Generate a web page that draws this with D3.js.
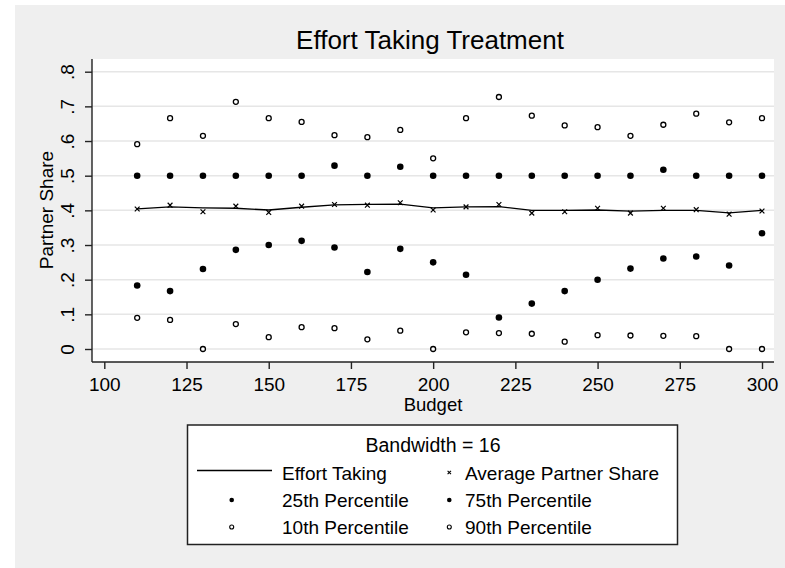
<!DOCTYPE html>
<html>
<head>
<meta charset="utf-8">
<script src="https://cdn.jsdelivr.net/npm/d3@7"></script>
<style>
  body { margin: 0; background: #fff; }
  svg { display: block; font-family: "Liberation Sans", Arial, sans-serif; }
</style>
</head>
<body>
<svg id="chart" width="785" height="568"></svg>
<script>
const budget = [110, 120, 130, 140, 150, 160, 170, 180, 190, 200, 210, 220, 230, 240, 250, 260, 270, 280, 290, 300];
const avgShare = [0.404, 0.415, 0.396, 0.412, 0.394, 0.412, 0.417, 0.415, 0.422, 0.401, 0.410, 0.417, 0.392, 0.396, 0.406, 0.392, 0.406, 0.402, 0.389, 0.398];
const effortSmooth = [0.404, 0.410, 0.407, 0.406, 0.401, 0.409, 0.416, 0.417, 0.418, 0.407, 0.410, 0.411, 0.400, 0.400, 0.401, 0.398, 0.400, 0.400, 0.393, 0.400];
const p10 = [0.090, 0.084, 0.000, 0.072, 0.034, 0.063, 0.060, 0.028, 0.053, 0.000, 0.048, 0.046, 0.044, 0.021, 0.040, 0.039, 0.038, 0.037, 0.000, 0.000];
const p25 = [0.183, 0.167, 0.231, 0.286, 0.300, 0.312, 0.293, 0.222, 0.289, 0.250, 0.214, 0.091, 0.131, 0.167, 0.200, 0.232, 0.261, 0.267, 0.241, 0.334];
const p75 = [0.5, 0.5, 0.5, 0.5, 0.5, 0.5, 0.529, 0.5, 0.526, 0.5, 0.5, 0.5, 0.5, 0.5, 0.5, 0.5, 0.517, 0.5, 0.5, 0.5];
const p90 = [0.591, 0.666, 0.615, 0.713, 0.666, 0.655, 0.617, 0.611, 0.632, 0.550, 0.666, 0.727, 0.673, 0.645, 0.640, 0.615, 0.647, 0.679, 0.654, 0.666];
const xTicks = [100, 125, 150, 175, 200, 225, 250, 275, 300];
const yTicks = [0, 0.1, 0.2, 0.3, 0.4, 0.5, 0.6, 0.7, 0.8];

const legendItems = [
  { name: 'Effort Taking', kind: 'line' },
  { name: 'Average Partner Share', kind: 'cross' },
  { name: '25th Percentile', kind: 'dot' },
  { name: '75th Percentile', kind: 'dot' },
  { name: '10th Percentile', kind: 'ring' },
  { name: '90th Percentile', kind: 'ring' },
];

const svg = d3.select('#chart');
const plot = { left: 92, right: 774, top: 59, bottom: 362 };

svg.append('rect').attr('x', 15).attr('y', 5).attr('width', 770).attr('height', 563).attr('fill', '#efefef');
svg.append('rect')
  .attr('x', plot.left).attr('y', plot.top)
  .attr('width', plot.right - plot.left).attr('height', plot.bottom - plot.top)
  .attr('fill', '#fff');

const x = d3.scaleLinear([100, 300], [104.3, 762]);
const y = d3.scaleLinear([0, 0.8], [349, 71.7]);

// grid
svg.append('g')
  .selectAll('line')
  .data(yTicks)
  .join('line')
  .attr('x1', plot.left).attr('x2', plot.right)
  .attr('y1', (d) => y(d)).attr('y2', (d) => y(d))
  .attr('stroke', '#e6e6e6').attr('stroke-width', 1.5);

const fmt = (d) => (d === 0 ? '0' : d3.format('.1f')(d).replace(/^0/, ''));

// y axis
const yAxisEl = svg.append('g')
  .attr('transform', `translate(${plot.left},0)`)
  .call(d3.axisLeft(y).tickValues(yTicks).tickFormat(fmt).tickSize(7).tickSizeOuter(0));
yAxisEl.select('.domain').attr('d', `M0,${plot.top}V${plot.bottom}`);
yAxisEl.selectAll('.tick text')
  .attr('x', null).attr('dy', null)
  .attr('transform', 'translate(-18,0) rotate(-90)')
  .attr('text-anchor', 'middle')
  .attr('font-size', 19).attr('fill', '#000');

// x axis
const xAxisEl = svg.append('g')
  .attr('transform', `translate(0,${plot.bottom})`)
  .call(d3.axisBottom(x).tickValues(xTicks).tickSize(7).tickSizeOuter(0));
xAxisEl.select('.domain').attr('d', `M${plot.left},0H${plot.right}`);
xAxisEl.selectAll('.tick text')
  .attr('y', 29).attr('dy', null)
  .attr('font-size', 19).attr('fill', '#000');

svg.selectAll('.domain, .tick line').attr('stroke', '#222').attr('stroke-width', 1.4);

// titles
svg.append('text').attr('x', 430).attr('y', 49).attr('text-anchor', 'middle')
  .attr('font-size', 26).text('Effort Taking Treatment');
svg.append('text').attr('x', 433).attr('y', 411).attr('text-anchor', 'middle')
  .attr('font-size', 18.5).text('Budget');
svg.append('text').attr('transform', 'translate(53,210) rotate(-90)').attr('text-anchor', 'middle')
  .attr('font-size', 19).text('Partner Share');

// data marks
const pts = (vals) => budget.map((b, i) => ({ b, v: vals[i] }));
const g = svg.append('g');

g.append('path')
  .datum(pts(effortSmooth))
  .attr('fill', 'none').attr('stroke', '#000').attr('stroke-width', 1.3)
  .attr('d', d3.line((d) => x(d.b), (d) => y(d.v)));

function dots(vals, filled) {
  g.append('g').selectAll('circle')
    .data(pts(vals))
    .join('circle')
    .attr('cx', (d) => x(d.b)).attr('cy', (d) => y(d.v))
    .attr('r', filled ? 3.3 : 2.5)
    .attr('fill', filled ? '#000' : '#fff')
    .attr('stroke', '#000').attr('stroke-width', filled ? 0 : 1.3);
}
dots(p10, false);
dots(p90, false);
dots(p25, true);
dots(p75, true);

const cross = (s) => `M${-s},${-s}L${s},${s}M${-s},${s}L${s},${-s}`;
g.append('g').selectAll('path')
  .data(pts(avgShare))
  .join('path')
  .attr('transform', (d) => `translate(${x(d.b)},${y(d.v)})`)
  .attr('d', cross(2.4))
  .attr('stroke', '#000').attr('stroke-width', 1.2);

// legend
const leg = svg.append('g');
leg.append('rect').attr('x', 187.5).attr('y', 425).attr('width', 490).attr('height', 119.5)
  .attr('fill', '#fff').attr('stroke', '#222').attr('stroke-width', 1.5);
leg.append('text').attr('x', 433).attr('y', 452).attr('text-anchor', 'middle')
  .attr('font-size', 19.5).text('Bandwidth = 16');

const cols = [{ mark: 231.7, text: 282 }, { mark: 449.3, text: 465 }];
const rows = [480, 507, 534];
const items = leg.selectAll('g.item')
  .data(legendItems)
  .join('g')
  .classed('item', true)
  .attr('transform', (d, i) => `translate(0,${rows[Math.floor(i / 2)]})`);

items.append('text')
  .attr('x', (d, i) => cols[i % 2].text)
  .attr('font-size', 19)
  .text((d) => d.name);

items.each(function (d, i) {
  const el = d3.select(this);
  const mx = cols[i % 2].mark;
  if (d.kind === 'line') {
    el.append('line').attr('x1', 197).attr('x2', 272).attr('y1', -9.5).attr('y2', -9.5)
      .attr('stroke', '#000').attr('stroke-width', 1.3);
  } else if (d.kind === 'cross') {
    el.append('path').attr('transform', `translate(${mx},-7.5)`).attr('d', cross(1.7))
      .attr('stroke', '#000').attr('stroke-width', 1.1);
  } else if (d.kind === 'dot') {
    el.append('circle').attr('cx', mx).attr('cy', -7).attr('r', 2.3).attr('fill', '#000');
  } else {
    el.append('circle').attr('cx', mx).attr('cy', -7).attr('r', 2)
      .attr('fill', '#fff').attr('stroke', '#000').attr('stroke-width', 1.1);
  }
});
</script>
</body>
</html>
